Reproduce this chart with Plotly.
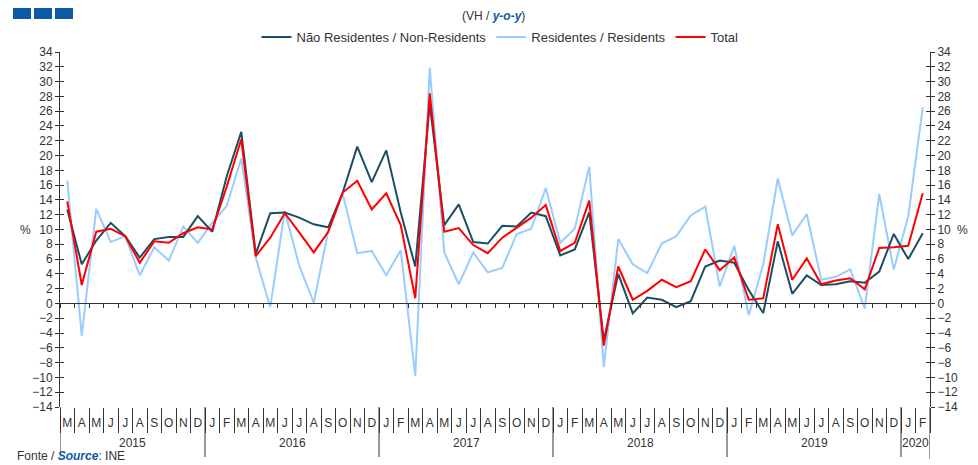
import plotly.graph_objects as go

# monthly y-o-y change (%), Mar 2015 .. Feb 2020
years = ["2015"] * 10 + ["2016"] * 12 + ["2017"] * 12 + ["2018"] * 12 + ["2019"] * 12 + ["2020"] * 2
months = (["M", "A", "M", "J", "J", "A", "S", "O", "N", "D"]
          + ["J", "F", "M", "A", "M", "J", "J", "A", "S", "O", "N", "D"] * 4
          + ["J", "F"])

non_residents = [12.7, 5.3, 8.5, 10.9, 9.1, 6.2, 8.7, 9.0, 9.0, 11.8,
                 9.7, 17.2, 23.2, 6.7, 12.2, 12.3, 11.6, 10.7, 10.3, 15.0, 21.2, 16.4,
                 20.7, 12.3, 5.0, 27.0, 10.6, 13.4, 8.3, 8.1, 10.5, 10.4, 12.3, 11.8,
                 6.5, 7.3, 12.3, -5.0, 4.0, -1.35, 0.8, 0.5, -0.5, 0.3, 5.0, 5.8,
                 5.5, 1.8, -1.3, 8.4, 1.3, 3.8, 2.5, 2.6, 3.0, 2.8, 4.3, 9.4,
                 6.0, 9.5]
residents = [16.6, -4.4, 12.8, 8.3, 9.1, 3.8, 7.6, 5.8, 10.4, 8.2,
             10.9, 13.2, 19.6, 6.2, -0.5, 12.5, 5.1, 0.1, 9.8, 14.8, 6.8, 7.1,
             3.8, 7.2, -9.8, 31.9, 6.9, 2.6, 6.9, 4.2, 4.8, 9.4, 10.1, 15.6,
             8.2, 10.1, 18.5, -8.6, 8.7, 5.3, 4.1, 8.1, 9.1, 11.9, 13.1, 2.3,
             7.8, -1.6, 5.3, 16.9, 9.2, 12.1, 3.2, 3.6, 4.6, -0.7, 14.8, 4.6,
             11.8, 26.5]
total = [13.8, 2.5, 9.7, 10.1, 9.1, 5.5, 8.4, 8.2, 9.5, 10.3,
         10.0, 15.8, 22.2, 6.4, 8.9, 12.2, 9.6, 6.9, 9.7, 15.0, 16.6, 12.7,
         14.9, 10.6, 0.7, 28.4, 9.7, 10.2, 7.9, 6.8, 8.9, 10.2, 11.6, 13.3,
         7.1, 8.2, 13.9, -5.7, 5.0, 0.5, 1.7, 3.2, 2.2, 3.0, 7.3, 4.5,
         6.2, 0.5, 0.7, 10.7, 3.2, 6.1, 2.6, 3.1, 3.4, 1.9, 7.5, 7.6,
         7.8, 14.9]

n = len(years)
idx = list(range(n))
bounds = [k - 0.5 for k in range(n + 1)]
xrange_ = [-0.5, n - 0.5]

# page body has an 8px margin, so the figure is shrunk by that much
OFF = 8
W, H = 978 - OFF, 465 - OFF
L, R, T, B = 60 - OFF, 48, 52 - OFF, 58
pw, ph = W - L - R, H - T - B


def px_x(p):
    return (p - OFF - L) / pw


def px_y(p):
    return (H - B - (p - OFF)) / ph


font = "Liberation Sans, Arial, sans-serif"
grey = "#333333"
blue = "#0b5aa6"

fig = go.Figure()
fig.add_trace(go.Scatter(x=idx, y=residents, mode="lines", name="Residentes / Residents",
                         line=dict(color="#99ccff", width=2), legendrank=2))
fig.add_trace(go.Scatter(x=idx, y=non_residents, mode="lines", name="Não Residentes / Non-Residents",
                         line=dict(color="#1a4e66", width=2), legendrank=1))
fig.add_trace(go.Scatter(x=idx, y=total, mode="lines", name="Total",
                         line=dict(color="#ff0000", width=2), legendrank=3))

# helper traces so the extra axes get drawn
blank = [None] * n
for xa, ya in [("x2", "y"), ("x3", "y"), ("x", "y2"), ("x", "y3"), ("x", "y4")]:
    fig.add_trace(go.Scatter(x=idx, y=blank, xaxis=xa, yaxis=ya, showlegend=False,
                             hoverinfo="skip", mode="lines"))

yrange = [-14, 34]
yax = dict(range=yrange, dtick=2, showgrid=False, zeroline=False, showline=True,
           linecolor=grey, linewidth=1, tickcolor=grey, ticklen=4,
           tickfont=dict(family=font, size=12, color=grey))

fig.update_layout(
    width=W, height=H,
    margin=dict(l=L, r=R, t=T, b=B, autoexpand=False),
    paper_bgcolor="white", plot_bgcolor="white",
    font=dict(family=font, color=grey),
    showlegend=True,
    legend=dict(orientation="h", x=px_x(500), xanchor="center", y=px_y(37), yanchor="middle",
                font=dict(family=font, size=13, color=grey), itemwidth=30,
                bgcolor="rgba(0,0,0,0)"),
    # month letters
    xaxis=dict(range=xrange_, tickmode="array", tickvals=idx, ticktext=months, ticks="",
               showline=False, showgrid=False, zeroline=False, ticklabelstandoff=7,
               tickfont=dict(family=font, size=12, color=grey)),
    # zero line with month ticks
    xaxis2=dict(range=xrange_, overlaying="x", anchor="free", position=14 / 48,
                showline=True, linecolor=grey, linewidth=1, ticks="outside",
                tickmode="array", tickvals=bounds, ticklen=4, tickcolor=grey,
                showticklabels=False, showgrid=False, zeroline=False),
    # month separators under the plot
    xaxis3=dict(range=xrange_, overlaying="x", anchor="y", side="bottom", showline=False,
                ticks="outside", tickmode="array", tickvals=bounds, ticklen=25,
                tickcolor=grey, showticklabels=False, showgrid=False, zeroline=False),
    yaxis=dict(side="left", ticks="outside", **yax),
    yaxis2=dict(side="right", overlaying="y", anchor="x", ticks="outside", **yax),
    yaxis3=dict(side="left", overlaying="y", anchor="x", ticks="inside",
                showticklabels=False, **yax),
    yaxis4=dict(side="right", overlaying="y", anchor="x", ticks="inside",
                showticklabels=False, **yax),
)

# year labels and year dividers
groups = []
for k, y in enumerate(years):
    if not groups or groups[-1][0] != y:
        groups.append([y, k, k])
    groups[-1][2] = k
for y, k0, k1 in groups:
    fig.add_annotation(x=(k0 + k1) / 2, xref="x", y=px_y(443), yref="paper", text=y,
                       xanchor="center", yanchor="middle", showarrow=False,
                       font=dict(family=font, size=12, color=grey))
    fig.add_shape(type="line", xref="x", yref="paper", x0=k0 - 0.5, x1=k0 - 0.5,
                  y0=px_y(407), y1=px_y(457), line=dict(color=grey, width=1))
fig.add_shape(type="line", xref="x", yref="paper", x0=n - 0.5, x1=n - 0.5,
              y0=px_y(407), y1=px_y(459), line=dict(color=grey, width=1))

# header squares
for x0 in [13, 34, 55]:
    fig.add_shape(type="rect", xref="paper", yref="paper",
                  x0=px_x(x0), x1=px_x(x0 + 18), y0=px_y(19), y1=px_y(8),
                  fillcolor=blue, line=dict(width=0))

fig.add_annotation(xref="paper", yref="paper", x=px_x(493), y=px_y(16),
                   xanchor="center", yanchor="middle",
                   text="(VH / <b><i><span style='color:#0b5aa6'>y-o-y</span></i></b>)",
                   showarrow=False, font=dict(family=font, size=12, color=grey))
fig.add_annotation(xref="paper", yref="y", x=px_x(25), y=10, text="%", showarrow=False,
                   xanchor="center", yanchor="middle",
                   font=dict(family=font, size=12, color=grey))
fig.add_annotation(xref="paper", yref="y", x=px_x(962), y=10, text="%", showarrow=False,
                   xanchor="center", yanchor="middle",
                   font=dict(family=font, size=12, color=grey))
fig.add_annotation(xref="paper", yref="paper", x=px_x(15), y=px_y(456),
                   xanchor="left", yanchor="middle",
                   text="Fonte / <b><i><span style='color:#0b5aa6'>Source</span></i></b>: INE",
                   showarrow=False, font=dict(family=font, size=12, color=grey))

fig.write_html("out.html")
